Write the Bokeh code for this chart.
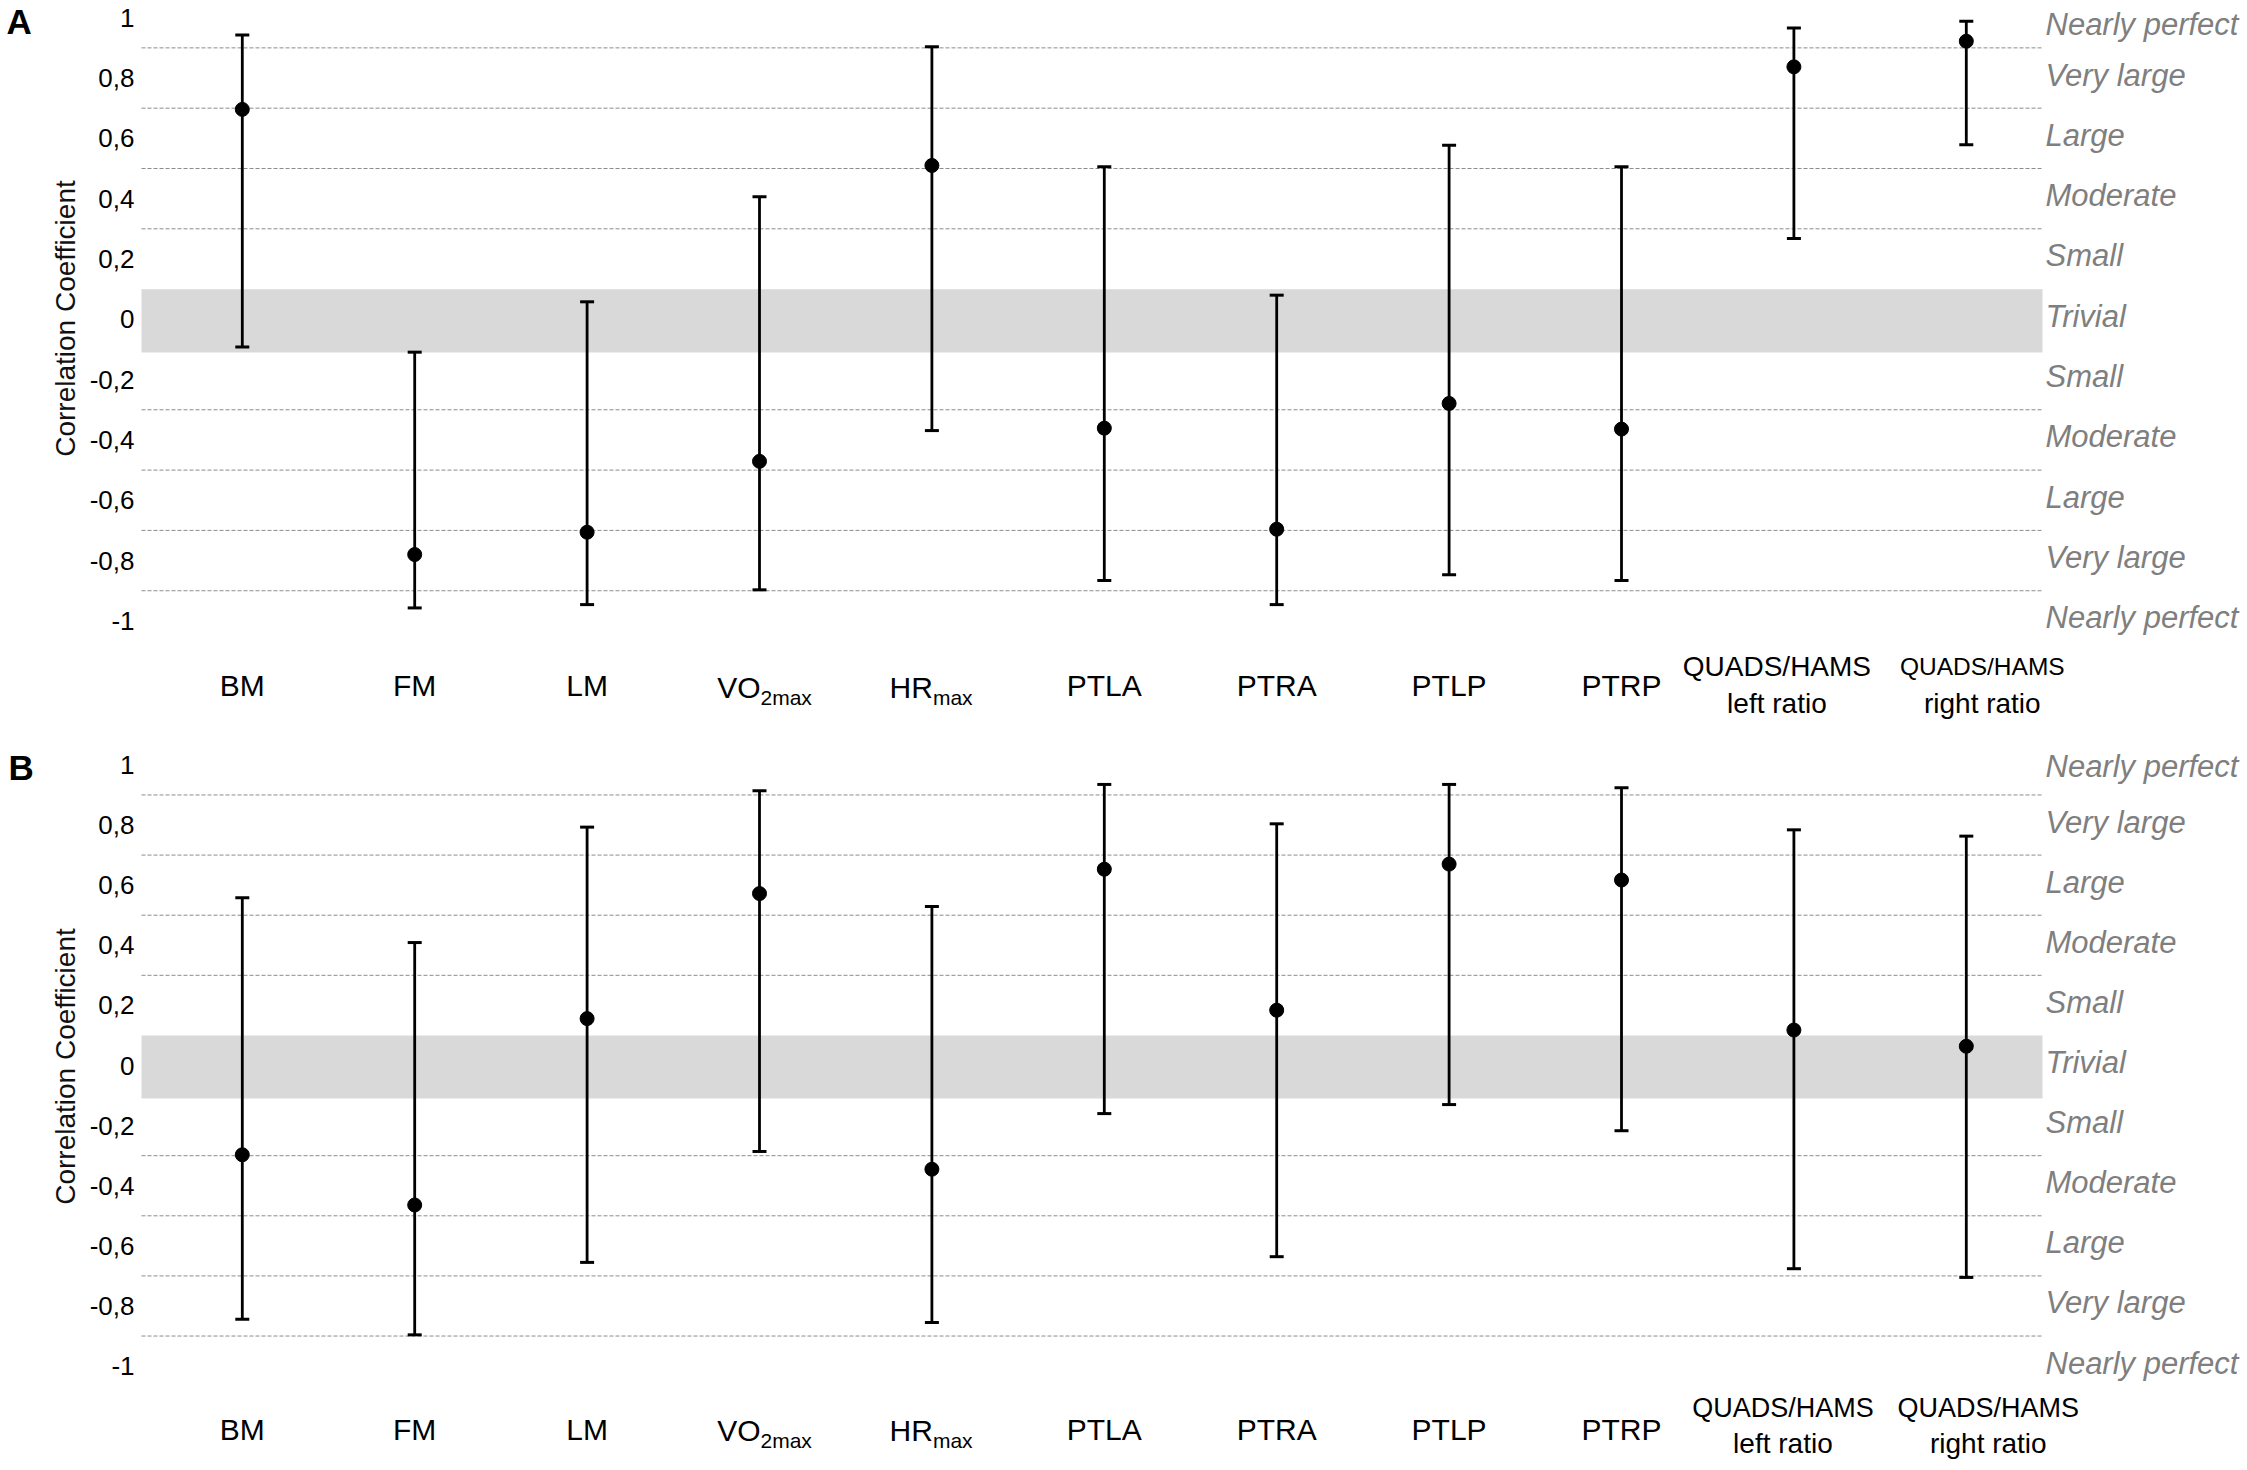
import math
from bokeh.plotting import figure
from bokeh.models import (Range1d, BoxAnnotation, Whisker, TeeHead, ColumnDataSource)
from bokeh.layouts import column
from bokeh.core.properties import value
from bokeh.embed import file_html
from bokeh.resources import INLINE

# ---------------- data ----------------
categories = ["BM", "FM", "LM", "VO2max", "HRmax", "PTLA", "PTRA", "PTLP", "PTRP",
              "QUADS/HAMS left ratio", "QUADS/HAMS right ratio"]
cat_main = ["BM", "FM", "LM", "VO", "HR", "PTLA", "PTRA", "PTLP", "PTRP",
            "QUADS/HAMS\nleft ratio", "QUADS/HAMS\nright ratio"]
cat_sub = ["", "", "", "2max", "max", "", "", "", "", "", ""]

# Panel A
a_r = [0.696, -0.780, -0.706, -0.471, 0.510, -0.361, -0.696, -0.279, -0.364, 0.837, 0.922]
a_lo = [-0.092, -0.957, -0.946, -0.897, -0.369, -0.866, -0.946, -0.847, -0.866, 0.268, 0.579]
a_hi = [0.943, -0.109, 0.058, 0.406, 0.904, 0.506, 0.080, 0.577, 0.506, 0.966, 0.988]

# Panel B
b_r = [-0.297, -0.464, 0.156, 0.572, -0.345, 0.653, 0.184, 0.670, 0.617, 0.118, 0.064]
b_lo = [-0.844, -0.896, -0.655, -0.286, -0.855, -0.160, -0.636, -0.130, -0.217, -0.676, -0.705]
b_hi = [0.558, 0.409, 0.793, 0.914, 0.529, 0.935, 0.804, 0.935, 0.924, 0.784, 0.763]

y_ticks = [-1, -0.8, -0.6, -0.4, -0.2, 0, 0.2, 0.4, 0.6, 0.8, 1]
y_tick_labels = ["-1", "-0,8", "-0,6", "-0,4", "-0,2", "0", "0,2", "0,4", "0,6", "0,8", "1"]
magnitude_labels = ["Nearly perfect", "Very large", "Large", "Moderate", "Small", "Trivial",
                    "Small", "Moderate", "Large", "Very large", "Nearly perfect"]
threshold_lines = [-0.9, -0.7, -0.5, -0.3, 0.3, 0.5, 0.7, 0.9]
trivial_low, trivial_high = -0.11, 0.10
y_title = "Correlation Coefficient"

# ---------------- layout / style constants (pixels) ----------------
FONT = "Liberation Sans"
W = 2240
X0_PX, X_STEP = 241.8, 172.4          # first category centre, spacing
PLOT_L_PX, PLOT_R_PX = 141, 2042      # extent of the grid / band


def px_x(px):
    return (px - X0_PX) / X_STEP


def make_panel(letter, r, lo, hi, top_px, height, zero_px, unit_px, st):
    def py(p):
        return (zero_px - p) / unit_px

    def to_px(v):
        return zero_px - v * unit_px

    p = figure(width=W, height=height, output_backend="svg", toolbar_location=None,
               x_range=Range1d(px_x(0), px_x(W)),
               y_range=Range1d(py(top_px + height), py(top_px)),
               x_axis_location=None, y_axis_location=None,
               min_border=0, min_border_left=0, min_border_right=0,
               min_border_top=0, min_border_bottom=0,
               outline_line_color=None, background_fill_color="white",
               border_fill_color="white")
    p.xgrid.visible = False
    p.ygrid.visible = False

    xl, xr = px_x(PLOT_L_PX), px_x(PLOT_R_PX)

    # trivial band
    p.add_layout(BoxAnnotation(left=xl, right=xr, bottom=trivial_low, top=trivial_high,
                               fill_color="#d9d9d9", fill_alpha=1.0, line_color=None,
                               level="underlay"))
    # threshold grid lines
    p.segment(x0=[xl] * len(threshold_lines), x1=[xr] * len(threshold_lines),
              y0=threshold_lines, y1=threshold_lines, line_color="#8c8c8c",
              line_width=1, line_dash="4 2")

    # y tick labels
    p.text(x=[px_x(134)] * len(y_ticks), y=y_ticks, text=y_tick_labels,
           text_font=value(FONT), text_font_size=value("26px"), text_color="black",
           text_align="right", text_baseline="middle")
    # right-hand magnitude descriptors (kept inside the canvas at the top)
    mag_y = [py(max(to_px(t) - 3, top_px + 24)) for t in y_ticks]
    p.text(x=[px_x(2045)] * len(y_ticks), y=mag_y,
           text=magnitude_labels, text_font=value(FONT), text_font_size=value("31px"),
           text_font_style="italic", text_color="#7f7f7f",
           text_align="left", text_baseline="middle")
    # y axis title
    p.text(x=[px_x(65)], y=[py(st["title_px"])], text=[y_title], angle=math.pi / 2,
           text_font=value(FONT), text_font_size=value("28px"), text_color="#111111",
           text_align="center", text_baseline="middle")
    # panel letter
    p.text(x=[px_x(st["letter_x"])], y=[py(st["letter_c"])], text=[letter],
           text_font=value(FONT), text_font_size=value("35px"), text_font_style="bold",
           text_color="black", text_align="left", text_baseline="middle")

    # error bars + points
    xs = list(range(len(categories)))
    src = ColumnDataSource(dict(x=xs, r=r, lo=lo, hi=hi, name=categories))
    p.add_layout(Whisker(source=src, base="x", upper="hi", lower="lo", line_width=2.8,
                         line_color="black", level="glyph",
                         upper_head=TeeHead(size=14, line_width=3, line_color="black"),
                         lower_head=TeeHead(size=14, line_width=3, line_color="black")))
    p.scatter("x", "r", source=src, size=14, color="black")

    # category labels
    for i, (m, s) in enumerate(zip(cat_main, cat_sub)):
        if "\n" in m:
            dx, specs = st["multi"][i]
            for line, (fs, c) in zip(m.split("\n"), specs):
                p.text(x=[i], y=[py(c)], text=[line], x_offset=dx,
                       text_font=value(FONT), text_font_size=value(fs),
                       text_color="black", text_align="center",
                       text_baseline="middle")
        elif s:
            p.text(x=[i], y=[py(st["sub_center"])], text=[m], x_offset=1,
                   text_font=value(FONT), text_font_size=value("30px"),
                   text_color="black", text_align="right", text_baseline="middle")
            p.text(x=[i], y=[py(st["sub_center"] + 10)], text=[s], x_offset=1,
                   text_font=value(FONT), text_font_size=value("21px"),
                   text_color="black", text_align="left", text_baseline="middle")
        else:
            p.text(x=[i], y=[py(st["center"])], text=[m],
                   text_font=value(FONT), text_font_size=value("30px"),
                   text_color="black", text_align="center", text_baseline="middle")
    return p


style_a = dict(letter_x=6, letter_c=21, title_px=318, center=685, sub_center=687,
               multi={9: (-17, [("28px", 666), ("28px", 702.5)]),
                      10: (16, [("24.5px", 666), ("28px", 702.5)])})
style_b = dict(letter_x=8, letter_c=767, title_px=1066, center=1429, sub_center=1430,
               multi={9: (-11, [("27px", 1407), ("28px", 1443)]),
                      10: (22, [("27px", 1407), ("28px", 1443)])})

H_A = 742
H_B = 720
pA = make_panel("A", a_r, a_lo, a_hi, top_px=0, height=H_A, zero_px=318.8, unit_px=301.6,
                st=style_a)
pB = make_panel("B", b_r, b_lo, b_hi, top_px=H_A, height=H_B, zero_px=1065.0, unit_px=300.6,
                st=style_b)

layout = column(pA, pB)
open("out.html", "w").write(file_html(layout, INLINE))
